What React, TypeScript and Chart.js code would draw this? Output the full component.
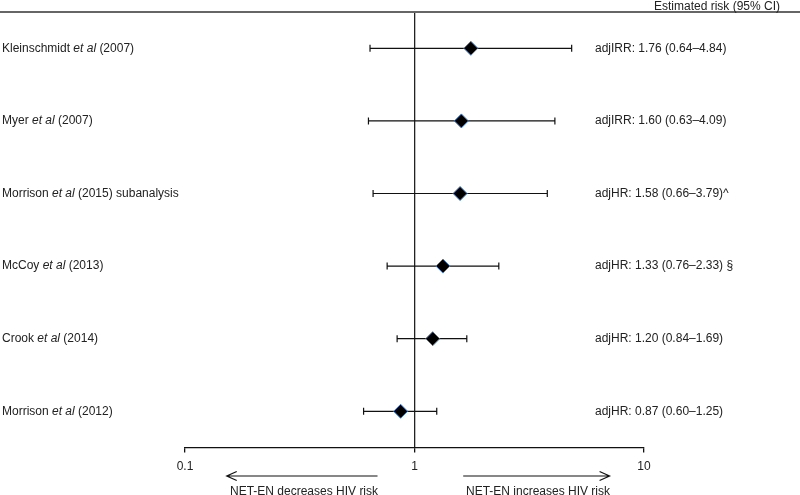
import React, { useEffect, useRef } from "react";
import { Chart, registerables } from "chart.js";

Chart.register(...registerables);

const AUTHORS = ["Kleinschmidt", "Myer", "Morrison", "McCoy", "Crook", "Morrison"];
const SUFFIXES = ["(2007)", "(2007)", "(2015) subanalysis", "(2013)", "(2014)", "(2012)"];
const MEASURES = ["adjIRR", "adjIRR", "adjHR", "adjHR", "adjHR", "adjHR"];
const ESTIMATES = [1.76, 1.6, 1.58, 1.33, 1.2, 0.87];
const LOWER = [0.64, 0.63, 0.66, 0.76, 0.84, 0.6];
const UPPER = [4.84, 4.09, 3.79, 2.33, 1.69, 1.25];
const NOTES = ["", "", "^", " §", "", ""];
const TICKS = [0.1, 1, 10];
const HEADER = "Estimated risk (95% CI)";
const LEFT_NOTE = "NET-EN decreases HIV risk";
const RIGHT_NOTE = "NET-EN increases HIV risk";

const FONT = "Liberation Sans, Arial, Helvetica, sans-serif";
const TEXT = "#222";

const fmt = (v: number) => v.toFixed(2);

const forestPlugin = {
  id: "forest",
  beforeDatasetsDraw(chart: any) {
    const { ctx, scales } = chart;
    const xs = scales.x;
    const ys = scales.y;
    ctx.save();
    ctx.strokeStyle = "#111";
    ctx.lineWidth = 1.2;
    ESTIMATES.forEach((_, i) => {
      const y = ys.getPixelForValue(i + 1);
      const x1 = xs.getPixelForValue(LOWER[i]);
      const x2 = xs.getPixelForValue(UPPER[i]);
      ctx.beginPath();
      ctx.moveTo(x1, y);
      ctx.lineTo(x2, y);
      ctx.moveTo(x1, y - 3.5);
      ctx.lineTo(x1, y + 3.5);
      ctx.moveTo(x2, y - 3.5);
      ctx.lineTo(x2, y + 3.5);
      ctx.stroke();
    });
    ctx.restore();
  },
  afterDraw(chart: any) {
    const { ctx, scales, width } = chart;
    const xs = scales.x;
    const ys = scales.y;
    const area = chart.chartArea;
    ctx.save();
    // top rule
    ctx.strokeStyle = "#666";
    ctx.lineWidth = 2;
    ctx.beginPath();
    ctx.moveTo(0, area.top);
    ctx.lineTo(width, area.top);
    ctx.stroke();

    ctx.fillStyle = TEXT;
    ctx.font = `12px ${FONT}`;
    ctx.textAlign = "right";
    ctx.textBaseline = "alphabetic";
    ctx.fillText(HEADER, 780, 10);

    // left labels
    ctx.textBaseline = "middle";
    ctx.textAlign = "left";
    AUTHORS.forEach((a, i) => {
      const y = ys.getPixelForValue(i + 1);
      let x = 2;
      ctx.font = `12px ${FONT}`;
      const p1 = a + " ";
      ctx.fillText(p1, x, y);
      x += ctx.measureText(p1).width;
      ctx.font = `italic 12px ${FONT}`;
      ctx.fillText("et al", x, y);
      x += ctx.measureText("et al").width;
      ctx.font = `12px ${FONT}`;
      ctx.fillText(" " + SUFFIXES[i], x, y);
    });

    // right labels
    ctx.font = `12px ${FONT}`;
    ESTIMATES.forEach((e, i) => {
      const y = ys.getPixelForValue(i + 1);
      const s = `${MEASURES[i]}: ${fmt(e)} (${fmt(LOWER[i])}\u2013${fmt(UPPER[i])})${NOTES[i]}`;
      ctx.fillText(s, 595, y);
    });

    // arrows
    const ay = 476;
    const lStart = xs.getPixelForValue(0.69);
    const lEnd = xs.getPixelForValue(0.152);
    const rStart = xs.getPixelForValue(1.63);
    const rEnd = xs.getPixelForValue(7.08);
    ctx.strokeStyle = "#111";
    ctx.lineWidth = 1.2;
    ctx.beginPath();
    ctx.moveTo(lStart, ay);
    ctx.lineTo(lEnd, ay);
    ctx.moveTo(lEnd + 10, ay - 4.5);
    ctx.lineTo(lEnd, ay);
    ctx.lineTo(lEnd + 10, ay + 4.5);
    ctx.moveTo(rStart, ay);
    ctx.lineTo(rEnd, ay);
    ctx.moveTo(rEnd - 10, ay - 4.5);
    ctx.lineTo(rEnd, ay);
    ctx.lineTo(rEnd - 10, ay + 4.5);
    ctx.stroke();

    ctx.textBaseline = "alphabetic";
    ctx.textAlign = "left";
    ctx.fillText(LEFT_NOTE, 230, 495);
    ctx.fillText(RIGHT_NOTE, 466, 495);
    ctx.restore();
  },
};

export default function App() {
  const ref = useRef<HTMLCanvasElement | null>(null);
  useEffect(() => {
    if (!ref.current) return;
    const chart = new Chart(ref.current, {
      type: "scatter",
      data: {
        datasets: [
          {
            data: ESTIMATES.map((e, i) => ({ x: e, y: i + 1 })),
            pointStyle: "rectRot",
            pointRadius: 7,
            pointHoverRadius: 7,
            backgroundColor: "#000",
            borderColor: "#4a7fc0",
            borderWidth: 1,
          },
        ],
      },
      options: {
        responsive: false,
        animation: false,
        events: [],
        layout: { padding: { left: 185, right: 156, top: 12, bottom: 14 } },
        plugins: { legend: { display: false }, tooltip: { enabled: false } },
        scales: {
          x: {
            type: "logarithmic",
            min: 0.1,
            max: 10,
            afterBuildTicks: (scale: any) => {
              scale.ticks = TICKS.map((v) => ({ value: v }));
            },
            border: { display: true, color: "#111", width: 1.3 },
            grid: {
              drawOnChartArea: true,
              drawTicks: true,
              tickLength: 5,
              lineWidth: 1.3,
              color: (c: any) => (c.tick && c.tick.value === 1 ? "#222" : "rgba(0,0,0,0)"),
              tickColor: "#111",
              tickWidth: 1.3,
            },
            ticks: {
              autoSkip: false,
              maxRotation: 0,
              padding: 7,
              color: TEXT,
              font: { family: FONT, size: 12 },
              callback: (v: any) => String(v),
            },
          },
          y: {
            display: false,
            min: 0.5,
            max: 6.5,
            reverse: true,
          },
        },
      },
      plugins: [forestPlugin],
    });
    return () => chart.destroy();
  }, []);
  return (
    <div style={{ position: "absolute", left: 0, top: 0, width: 800, height: 495, background: "#fff" }}>
      <canvas ref={ref} width={800} height={495} style={{ display: "block" }} />
    </div>
  );
}
